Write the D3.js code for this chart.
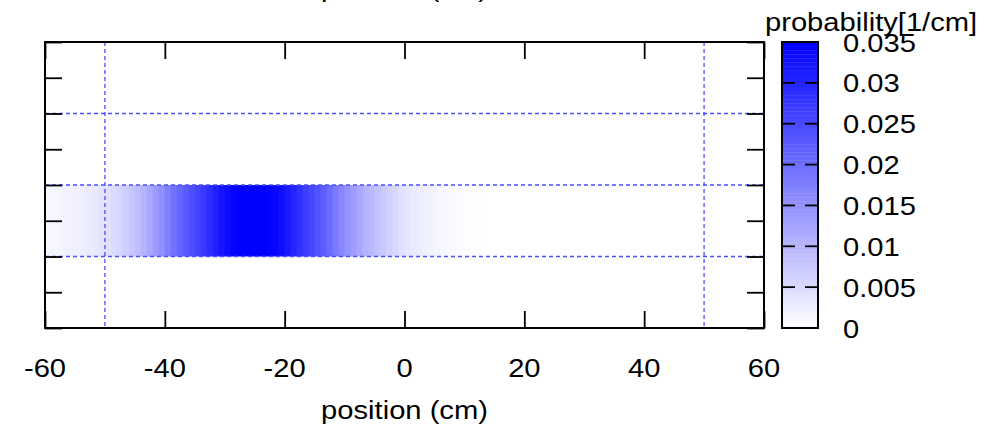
<!DOCTYPE html>
<html>
<head>
<meta charset="utf-8">
<script src="https://cdn.jsdelivr.net/npm/d3@7"></script>
<style>
  body { margin: 0; background: #fff; }
  text { font-family: "Liberation Sans", Arial, sans-serif; fill: #000; }
</style>
</head>
<body>
<div id="chart"></div>
<script>
// x axis
const xTicks = [-60, -40, -20, 0, 20, 40, 60];
const xGrid = [-50, 50];
// y axis (no labels in the original)
const yTicks = [0, 1, 2, 3, 4, 5, 6, 7, 8];
const yGrid = [2, 4, 6];
const bandY = [2, 4];
// probability per 1 cm bin, first bin starts at -60 cm
const binStart = -60;
const binWidth = 1;
const probs = [
  0.00105, 0.0012, 0.0014, 0.00175, 0.0019, 0.0021, 0.00245, 0.0028, 0.00315, 0.0037,
  0.0042, 0.0049, 0.0056, 0.0067, 0.0077, 0.0088, 0.0102, 0.0119, 0.0137, 0.0154,
  0.0175, 0.0193, 0.021, 0.0228, 0.0242, 0.0256, 0.0273, 0.029, 0.0308, 0.0322,
  0.0333, 0.0343, 0.035, 0.035, 0.035, 0.035, 0.035, 0.0347, 0.034, 0.0329,
  0.0315, 0.0301, 0.0284, 0.0266, 0.0252, 0.0238, 0.0221, 0.0203, 0.0182, 0.0165,
  0.0147, 0.0133, 0.0119, 0.0105, 0.0095, 0.0084, 0.0074, 0.0063, 0.0053, 0.0042,
  0.0035, 0.003, 0.00245, 0.0021, 0.00175, 0.0014, 0.00105, 0.0008, 0.0006, 0.0004,
  0.00025, 0.00015, 0.0001, 0.00006, 0.00003
];
// colour bar
const cbTicks = [0, 0.005, 0.01, 0.015, 0.02, 0.025, 0.03, 0.035];
const cbLabels = ["0", "0.005", "0.01", "0.015", "0.02", "0.025", "0.03", "0.035"];
const cbTitle = "probability[1/cm]";
const xLabel = "position (cm)";

const W = 993, H = 433;
const plot = {left: 45, right: 764, top: 42, bottom: 328};
const cb = {left: 782, right: 818};
const fs = 26.5, sx = 1.1;

const svg = d3.select("#chart").append("svg")
  .attr("width", W).attr("height", H);

const x = d3.scaleLinear().domain([-60, 60]).range([plot.left, plot.right]);
const y = d3.scaleLinear().domain([0, 8]).range([plot.bottom, plot.top]);
const color = d3.scaleLinear().domain([0, 0.035]).range(["#ffffff", "#0000ff"]);
const cbY = d3.scaleLinear().domain([0, 0.035]).range([plot.bottom, plot.top]);

function label(g, str, px, py, anchor) {
  g.append("text")
    .attr("transform", `translate(${px},${py}) scale(${sx},1)`)
    .attr("text-anchor", anchor)
    .attr("font-size", fs)
    .text(str);
}

// heatmap band
svg.append("g").selectAll("rect")
  .data(probs)
  .join("rect")
  .attr("x", (d, i) => x(binStart + i * binWidth))
  .attr("width", (d, i) => x(binStart + (i + 1) * binWidth) - x(binStart + i * binWidth) + 0.5)
  .attr("y", y(bandY[1]))
  .attr("height", y(bandY[0]) - y(bandY[1]))
  .attr("fill", d => color(d));

// grid
const grid = svg.append("g")
  .attr("stroke", "#4d4dff").attr("stroke-width", 1.3).attr("stroke-dasharray", "4,3");
grid.selectAll(".gx").data(xGrid).join("line")
  .attr("x1", d => x(d)).attr("x2", d => x(d))
  .attr("y1", plot.top).attr("y2", plot.bottom);
grid.selectAll(".gy").data(yGrid).join("line")
  .attr("x1", plot.left).attr("x2", plot.right)
  .attr("y1", d => y(d)).attr("y2", d => y(d));

// axes with inward ticks
const tl = 17;
svg.append("g").attr("transform", `translate(0,${plot.bottom})`)
  .call(d3.axisTop(x).tickValues(xTicks).tickSize(tl).tickFormat(""))
  .call(g => g.select(".domain").remove());
svg.append("g").attr("transform", `translate(0,${plot.top})`)
  .call(d3.axisBottom(x).tickValues(xTicks).tickSize(tl).tickFormat(""))
  .call(g => g.select(".domain").remove());
svg.append("g").attr("transform", `translate(${plot.left},0)`)
  .call(d3.axisRight(y).tickValues(yTicks).tickSize(tl).tickFormat(""))
  .call(g => g.select(".domain").remove());
svg.append("g").attr("transform", `translate(${plot.right},0)`)
  .call(d3.axisLeft(y).tickValues(yTicks).tickSize(tl).tickFormat(""))
  .call(g => g.select(".domain").remove());
svg.selectAll(".tick line").attr("stroke", "#000").attr("stroke-width", 1.8);

svg.append("rect")
  .attr("x", plot.left).attr("y", plot.top)
  .attr("width", plot.right - plot.left).attr("height", plot.bottom - plot.top)
  .attr("fill", "none").attr("stroke", "#000").attr("stroke-width", 2);

// x tick labels
const lab = svg.append("g");
xTicks.forEach(t => label(lab, String(t), x(t), 377, "middle"));
label(lab, xLabel, x(0), 419, "middle");
// cut-off label from the panel above
label(lab, xLabel, x(0), -3.5, "middle");

// colour bar
const cbg = svg.append("g");
const steps = d3.range(0, 0.035, 0.0005);
cbg.selectAll("rect").data(steps).join("rect")
  .attr("x", cb.left).attr("width", cb.right - cb.left)
  .attr("y", d => cbY(d + 0.0005))
  .attr("height", d => cbY(d) - cbY(d + 0.0005) + 0.3)
  .attr("fill", d => color(d + 0.00025));
cbg.selectAll(".tl").data(cbTicks.slice(1, -1)).join("line")
  .attr("x1", cb.left).attr("x2", cb.left + 13)
  .attr("y1", d => cbY(d)).attr("y2", d => cbY(d))
  .attr("stroke", "#000").attr("stroke-width", 1.8);
cbg.selectAll(".tr").data(cbTicks.slice(1, -1)).join("line")
  .attr("x1", cb.right - 13).attr("x2", cb.right)
  .attr("y1", d => cbY(d)).attr("y2", d => cbY(d))
  .attr("stroke", "#000").attr("stroke-width", 1.8);
cbg.append("rect")
  .attr("x", cb.left).attr("y", plot.top)
  .attr("width", cb.right - cb.left).attr("height", plot.bottom - plot.top)
  .attr("fill", "none").attr("stroke", "#000").attr("stroke-width", 2);
cbTicks.forEach((t, i) => label(cbg, cbLabels[i], 843, cbY(t) + 9.5, "start"));
label(cbg, cbTitle, 765, 31, "start");
</script>
</body>
</html>
